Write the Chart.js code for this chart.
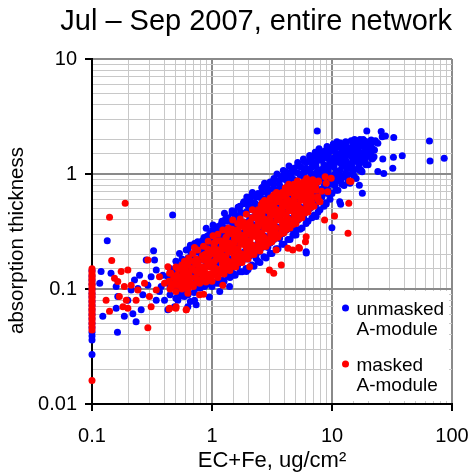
<!DOCTYPE html>
<html>
<head>
<meta charset="utf-8">
<script src="https://cdn.jsdelivr.net/npm/chart.js@4.4.1/dist/chart.umd.min.js"></script>
<style>
  html, body { margin: 0; padding: 0; background: #fff; }
  #wrap { width: 471px; height: 473px; }
</style>
</head>
<body>
<div id="wrap"><canvas id="myChart" width="471" height="473"></canvas></div>
<script>
// ---- data: [EC+Fe, absorption thickness] ----
var seriesNames = ['unmasked\nA-module', 'masked\nA-module'];

var xTickValues = [0.1, 1, 10, 100];
var xTickLabels = ['0.1', '1', '10', '100'];
var yTickValues = [0.01, 0.1, 1, 10];
var yTickLabels = ['0.01', '0.1', '1', '10'];

// unmasked: column of points sitting on the 0.1 axis
var unmaskedAxis = [[0.1,0.145],[0.1,0.13],[0.1,0.12],[0.1,0.11],[0.1,0.1],[0.1,0.092],[0.1,0.085],[0.1,0.078],
  [0.1,0.072],[0.1,0.066],[0.1,0.06],[0.1,0.055],[0.1,0.05],[0.1,0.046],[0.1,0.042],[0.1,0.039],[0.1,0.036],[0.1,0.027]];

// unmasked: low-loading scatter
var unmaskedLow = [[0.119,0.142],[0.116,0.112],[0.144,0.137],[0.159,0.105],[0.164,0.086],[0.123,0.058],[0.159,0.068],
  [0.186,0.058],[0.199,0.080],[0.212,0.098],[0.226,0.120],[0.249,0.132],[0.241,0.101],[0.265,0.089],[0.292,0.108],
  [0.311,0.128],[0.343,0.146],[0.332,0.179],[0.283,0.179],[0.365,0.095],[0.402,0.080],[0.377,0.105],[0.429,0.128],
  [0.472,0.112],[0.429,0.066],[0.519,0.080],[0.590,0.086],[0.629,0.070],[0.487,0.070],[0.233,0.052],[0.219,0.061],
  [0.257,0.066],[0.343,0.080],[0.389,0.132],[0.519,0.137],[0.590,0.120],[0.715,0.080],[0.692,0.156],[0.762,0.128],
  [0.866,0.105],[0.787,0.233],[0.894,0.233],[0.984,0.249],[0.813,0.191],[0.47,0.44],[0.134,0.263],[0.163,0.042],
  [1.31,0.41],[0.326,0.215],
  [0.447,0.089],[0.447,0.105],[0.447,0.126],[0.447,0.151],[0.50,0.083],[0.50,0.1],[0.50,0.12],[0.50,0.145],[0.50,0.174],
  [0.562,0.087],[0.562,0.105],[0.562,0.126],[0.562,0.151],[0.562,0.182],[0.631,0.089],[0.631,0.107],[0.631,0.129],
  [0.631,0.155],[0.631,0.186],[0.631,0.219],[0.60,0.095],[0.60,0.115],[0.60,0.14],[0.60,0.168],[0.53,0.092],
  [0.53,0.11],[0.53,0.135],[0.53,0.162],[0.67,0.2],[0.66,0.24]];

// unmasked: main band
var unmaskedBand = [
  [0.71,0.093],[0.74,0.112],[0.69,0.135],[0.73,0.162],[0.68,0.195],[0.74,0.229],
  [0.80,0.102],[0.77,0.123],[0.83,0.148],[0.78,0.178],[0.82,0.214],[0.76,0.257],
  [0.87,0.107],[0.92,0.132],[0.88,0.158],[0.93,0.191],[0.86,0.234],[0.91,0.288],
  [1.0,0.105],[0.96,0.126],[1.04,0.151],[0.99,0.186],[0.97,0.224],[1.04,0.269],[1.01,0.324],
  [1.10,0.112],[1.16,0.138],[1.09,0.166],[1.15,0.2],[1.12,0.245],[1.08,0.295],[1.16,0.355],
  [1.26,0.117],[1.22,0.141],[1.30,0.174],[1.23,0.209],[1.31,0.251],[1.25,0.309],[1.21,0.372],[1.30,0.407],
  [1.41,0.126],[1.46,0.151],[1.37,0.182],[1.44,0.224],[1.47,0.269],[1.38,0.324],[1.43,0.389],[1.47,0.457],
  [1.56,0.132],[1.63,0.158],[1.54,0.195],[1.61,0.234],[1.65,0.288],[1.55,0.347],[1.62,0.427],[1.66,0.513],
  [1.78,0.141],[1.72,0.17],[1.84,0.209],[1.74,0.251],[1.81,0.309],[1.85,0.38],[1.73,0.468],[1.83,0.562],
  [2.0,0.148],[1.94,0.182],[2.07,0.224],[1.96,0.275],[1.93,0.339],[2.07,0.417],[2.02,0.513],[1.95,0.631],
  [2.24,0.158],[2.31,0.195],[2.17,0.24],[2.29,0.295],[2.19,0.363],[2.32,0.457],[2.26,0.562],[2.17,0.692],
  [2.51,0.17],[2.43,0.209],[2.60,0.263],[2.46,0.324],[2.59,0.398],[2.44,0.501],[2.56,0.617],[2.61,0.759],
  [2.82,0.186],[2.92,0.229],[2.74,0.288],[2.88,0.355],[2.93,0.447],[2.75,0.55],[2.90,0.692],[2.74,0.832],
  [3.16,0.204],[3.06,0.251],[3.27,0.316],[3.10,0.389],[3.26,0.49],[3.08,0.603],[3.23,0.741],[3.28,0.912],
  [3.55,0.224],[3.66,0.275],[3.44,0.347],[3.62,0.427],[3.68,0.537],[3.45,0.661],[3.64,0.813],[3.48,1.0],
  [3.98,0.245],[3.86,0.302],[4.12,0.38],[3.90,0.468],[4.10,0.589],[3.87,0.724],[4.12,0.891],[3.93,1.072],
  [4.47,0.269],[4.61,0.331],[4.33,0.417],[4.56,0.513],[4.62,0.646],[4.34,0.794],[4.58,0.977],[4.38,1.175],
  [5.01,0.295],[4.86,0.363],[5.17,0.447],[4.90,0.55],[5.16,0.676],[4.87,0.832],[5.14,1.023],[5.18,1.259],
  [5.62,0.339],[5.80,0.417],[5.46,0.513],[5.77,0.631],[5.48,0.776],[5.81,0.955],[5.50,1.148],[5.78,1.349],
  [6.31,0.389],[6.12,0.479],[6.51,0.589],[6.17,0.724],[6.49,0.891],[6.13,1.096],[6.47,1.288],[6.52,1.445],
  [7.08,0.437],[7.30,0.537],[6.88,0.661],[7.26,0.813],[6.90,1.0],[7.31,1.202],[6.94,1.413],[7.25,1.549],
  [7.94,0.49],[7.70,0.603],[8.18,0.741],[7.74,0.912],[8.16,1.096],[7.72,1.318],[8.14,1.514],[7.80,1.66],
  [8.91,0.562],[9.18,0.676],[8.66,0.813],[9.15,0.977],[8.70,1.175],[9.17,1.38],[8.68,1.585],[9.1,1.738],
  [10.0,0.676],[9.7,0.813],[10.3,0.977],[9.75,1.175],[10.3,1.38],[9.72,1.585],[10.25,1.82],
  [11.2,0.724],[11.55,0.871],[10.9,1.047],[11.5,1.259],[10.95,1.479],[11.55,1.698],[11.0,1.905],
  [12.6,0.794],[12.2,0.955],[13.0,1.148],[12.25,1.349],[12.95,1.585],[12.2,1.82],
  [14.1,0.832],[14.5,1.0],[13.7,1.202],[14.5,1.413],[13.75,1.66],[14.45,1.95],
  [15.9,0.912],[15.4,1.096],[16.3,1.318],[15.45,1.549],[16.3,1.778],[15.4,1.995],
  [17.8,1.047],[17.3,1.259],[18.3,1.479],[17.3,1.738],[18.2,1.995],
  [20.0,1.202],[19.4,1.413],[20.6,1.66],[19.4,1.905],
  [22.4,1.413],[21.8,1.66],[23.0,1.95],
  // in-between columns, upper edge
  [0.75,0.209],[0.77,0.245],[0.84,0.24],[0.86,0.28],[0.94,0.251],[0.96,0.302],[1.06,0.263],[1.08,0.316],
  [1.19,0.282],[1.16,0.339],[1.21,0.389],[1.33,0.282],[1.30,0.339],[1.36,0.417],
  [1.50,0.316],[1.47,0.38],[1.53,0.468],[1.68,0.355],[1.64,0.427],[1.71,0.525],
  [1.88,0.38],[1.93,0.468],[1.85,0.575],[2.11,0.417],[2.16,0.513],[2.07,0.631],
  [2.37,0.447],[2.31,0.55],[2.42,0.676],[2.66,0.49],[2.73,0.603],[2.61,0.759],
  [2.99,0.537],[2.92,0.661],[3.06,0.832],[3.35,0.589],[3.43,0.724],[3.29,0.891],
  [3.76,0.631],[3.68,0.776],[3.84,0.955],[4.22,0.692],[4.31,0.851],[4.14,1.047],
  [4.73,0.741],[4.63,0.912],[4.83,1.122],[5.31,0.794],[5.42,0.977],[5.21,1.202],
  [5.96,0.871],[5.84,1.047],[6.08,1.259],[6.68,0.955],[6.82,1.148],[6.56,1.349],
  [7.5,1.047],[7.34,1.259],[7.64,1.479],[8.41,1.0],[8.58,1.202],[8.25,1.445],
  [9.44,0.891],[9.25,1.072],[9.62,1.288],[9.3,1.514],
  [10.6,0.794],[10.85,0.955],[10.4,1.148],[10.8,1.38],[10.45,1.622],
  [11.9,0.891],[11.6,1.072],[12.2,1.259],[11.65,1.479],[12.1,1.738],
  [13.3,0.933],[13.6,1.122],[13.0,1.318],[13.6,1.549],[13.1,1.778],
  [15.0,1.047],[14.7,1.259],[15.3,1.479],[14.75,1.738],
  [16.8,1.175],[17.1,1.38],[16.5,1.622],[17.0,1.862],
  [18.8,1.318],[18.4,1.549],[19.1,1.82],[21.1,1.479],[20.7,1.738]];

// unmasked: points filling the gaps between the rows of the band
var unmaskedFill = [
  [0.76,0.102],[0.74,0.123],[0.76,0.148],[0.74,0.178],[0.76,0.214],
  [0.85,0.107],[0.83,0.129],[0.85,0.155],[0.83,0.186],[0.85,0.224],[0.83,0.263],
  [0.95,0.11],[0.93,0.132],[0.95,0.158],[0.93,0.191],[0.95,0.229],[0.93,0.275],
  [1.07,0.115],[1.05,0.138],[1.07,0.166],[1.05,0.2],[1.07,0.24],[1.05,0.288],[1.07,0.347],
  [1.21,0.12],[1.17,0.145],[1.21,0.174],[1.17,0.209],[1.21,0.251],[1.17,0.302],[1.21,0.363],
  [1.35,0.129],[1.31,0.155],[1.35,0.186],[1.31,0.224],[1.35,0.269],[1.31,0.324],[1.35,0.389],
  [1.53,0.135],[1.47,0.162],[1.53,0.195],[1.47,0.234],[1.53,0.282],[1.47,0.339],[1.53,0.407],[1.47,0.479],
  [1.71,0.141],[1.65,0.17],[1.71,0.204],[1.65,0.245],[1.71,0.295],[1.65,0.355],[1.71,0.427],[1.65,0.513],
  [1.92,0.151],[1.84,0.182],[1.92,0.219],[1.84,0.263],[1.92,0.316],[1.84,0.38],[1.92,0.457],[1.84,0.55],
  [2.15,0.162],[2.07,0.195],[2.15,0.234],[2.07,0.282],[2.15,0.339],[2.07,0.407],[2.15,0.49],[2.07,0.589],
  [2.42,0.174],[2.32,0.209],[2.42,0.251],[2.32,0.302],[2.42,0.363],[2.32,0.437],[2.42,0.525],[2.32,0.631],
  [2.71,0.191],[2.61,0.229],[2.71,0.275],[2.61,0.331],[2.71,0.398],[2.61,0.479],[2.71,0.575],[2.61,0.692],
  [3.05,0.204],[2.93,0.245],[3.05,0.295],[2.93,0.355],[3.05,0.427],[2.93,0.513],[3.05,0.617],[2.93,0.741],[3.05,0.851],
  [3.42,0.224],[3.28,0.269],[3.42,0.324],[3.28,0.389],[3.42,0.468],[3.28,0.562],[3.42,0.676],[3.28,0.813],
  [3.84,0.245],[3.68,0.295],[3.84,0.355],[3.68,0.427],[3.84,0.513],[3.68,0.617],[3.84,0.741],[3.68,0.891],
  [4.3,0.269],[4.14,0.324],[4.3,0.389],[4.14,0.468],[4.3,0.562],[4.14,0.676],[4.3,0.813],[4.14,0.977],
  [4.82,0.295],[4.64,0.355],[4.82,0.427],[4.64,0.513],[4.82,0.617],[4.64,0.741],[4.82,0.891],[4.64,1.072],
  [5.42,0.331],[5.2,0.398],[5.42,0.479],[5.2,0.575],[5.42,0.692],[5.2,0.832],[5.42,1.0],[5.2,1.175],
  [6.08,0.372],[5.84,0.447],[6.08,0.537],[5.84,0.646],[6.08,0.776],[5.84,0.933],[6.08,1.122],[5.84,1.288],
  [6.81,0.417],[6.55,0.501],[6.81,0.603],[6.55,0.724],[6.81,0.871],[6.55,1.047],[6.81,1.259],[6.55,1.413],
  [7.65,0.468],[7.35,0.562],[7.65,0.676],[7.35,0.813],[7.65,0.977],[7.35,1.175],[7.65,1.38],[7.35,1.549],
  [8.58,0.525],[8.24,0.631],[8.58,0.759],[8.24,0.912],[8.58,1.096],[8.24,1.318],[8.58,1.514],
  [9.63,0.603],[9.25,0.724],[9.63,0.871],[9.25,1.047],[9.63,1.259],[9.25,1.479],[9.63,1.66],
  [10.8,0.724],[10.4,0.871],[10.8,1.047],[10.4,1.259],[10.8,1.514],[10.4,1.738],
  [12.1,0.813],[11.7,0.977],[12.1,1.175],[11.7,1.38],[12.1,1.622],[11.7,1.862],
  [13.6,0.851],[13.0,1.023],[13.6,1.23],[13.0,1.445],[13.6,1.66],[13.0,1.905],
  [15.3,0.955],[14.7,1.148],[15.3,1.349],[14.7,1.585],[15.3,1.862],
  [17.1,1.072],[16.5,1.259],[17.1,1.479],[16.5,1.738],[17.1,1.995],
  [19.2,1.202],[18.4,1.413],[19.2,1.66],[18.4,1.95],
  [21.5,1.349],[20.7,1.585],[21.5,1.862]];

// unmasked: stray points around the band
var unmaskedStray = [[7.53,2.37],[19.5,2.37],[25.7,2.34],[27.9,2.14],[32.7,2.08],[26.2,2.11],[64.9,1.94],
  [65.6,1.30],[86.1,1.37],[38.5,1.44],[32.5,1.40],[32.1,1.12],[26.5,1.35],[21.9,1.37],[24.1,1.05],[27.0,1.01],
  [18.6,1.28],[17.5,1.08],[18.1,1.91],[19.3,1.73],[20.5,1.57],[22.6,1.62],[24.1,1.85],[21.2,1.98],[17.9,0.68],
  [16.9,0.80],[11.6,0.574],[11.8,0.545],[8.95,0.548],[7.38,0.426],[9.98,0.341],[0.895,0.337],[1.02,0.36],
  [6.09,0.211],[1.93,0.142],[1.49,0.132],[3.66,0.285],[5.04,0.326],
  [0.536,0.204],[0.61,0.218],[0.715,0.249],[0.838,0.258],[1.27,0.455],[1.99,0.556],[2.83,0.80],[4.15,0.98],
  [0.738,0.073],[0.66,0.078],[0.95,0.085],[1.16,0.095],[1.4,0.105],[1.16,0.112],[0.95,0.12],[2.33,0.185],
  [4.72,0.295],[6.1,0.206]];

// masked: column on the 0.1 axis
var maskedAxis = [[0.1,0.15],[0.1,0.143],[0.1,0.136],[0.1,0.13],[0.1,0.124],[0.1,0.118],[0.1,0.112],[0.1,0.107],
  [0.1,0.102],[0.1,0.097],[0.1,0.092],[0.1,0.088],[0.1,0.084],[0.1,0.08],[0.1,0.076],[0.1,0.072],[0.1,0.068],
  [0.1,0.065],[0.1,0.062],[0.1,0.059],[0.1,0.056],[0.1,0.053],[0.1,0.05],[0.1,0.047],[0.1,0.044],[0.1,0.016]];

var maskedLow = [[0.131,0.080],[0.140,0.064],[0.154,0.124],[0.164,0.116],[0.175,0.142],[0.199,0.146],[0.186,0.105],
  [0.169,0.086],[0.193,0.080],[0.181,0.070],[0.199,0.068],[0.212,0.108],[0.233,0.080],[0.241,0.098],[0.274,0.112],
  [0.301,0.086],[0.311,0.070],[0.343,0.098],[0.292,0.179],[0.365,0.128],[0.402,0.112],[0.429,0.156],[0.443,0.137],
  [0.457,0.105],[0.502,0.124],[0.536,0.151],[0.553,0.108],[0.590,0.128],[0.629,0.092],[0.670,0.112],[0.738,0.142],
  [0.813,0.120],[0.866,0.146],[0.787,0.089],[0.443,0.068],[0.502,0.070],[0.610,0.066],[0.692,0.204],[0.762,0.218],
  [0.923,0.179],[0.984,0.120],[0.292,0.046],[0.189,0.556],[0.14,0.42],[0.146,0.177],
  [0.447,0.1],[0.44,0.117],[0.455,0.138],[0.5,0.095],[0.49,0.112],[0.51,0.132],[0.5,0.155],
  [0.562,0.1],[0.55,0.117],[0.575,0.138],[0.56,0.162],[0.631,0.1],[0.62,0.117],[0.645,0.138],[0.625,0.162],
  [0.64,0.186],[0.668,0.107],[0.66,0.126],[0.68,0.148],[0.67,0.174],[0.53,0.107],[0.535,0.126],[0.525,0.148],
  [0.596,0.107],[0.59,0.126],[0.60,0.148],[0.59,0.174],[0.473,0.107],[0.48,0.126]];

var maskedBand = [
  [0.70,0.105],[0.73,0.126],[0.68,0.151],[0.74,0.182],
  [0.79,0.112],[0.82,0.135],[0.77,0.162],[0.83,0.195],
  [0.89,0.115],[0.86,0.138],[0.92,0.166],[0.87,0.2],[0.92,0.224],
  [1.0,0.117],[1.03,0.141],[0.97,0.17],[1.02,0.204],[1.04,0.245],
  [1.12,0.126],[1.08,0.151],[1.16,0.182],[1.11,0.219],[1.08,0.263],
  [1.26,0.135],[1.30,0.162],[1.22,0.195],[1.29,0.234],[1.31,0.282],
  [1.41,0.145],[1.37,0.174],[1.46,0.209],[1.39,0.251],[1.46,0.302],[1.37,0.339],
  [1.58,0.155],[1.64,0.186],[1.54,0.224],[1.63,0.269],[1.55,0.324],[1.64,0.372],
  [1.78,0.17],[1.73,0.204],[1.84,0.245],[1.75,0.295],[1.84,0.347],[1.72,0.407],
  [2.0,0.182],[2.06,0.219],[1.94,0.263],[2.05,0.316],[2.07,0.38],[1.93,0.447],
  [2.24,0.2],[2.17,0.24],[2.31,0.288],[2.19,0.347],[2.31,0.417],[2.17,0.49],
  [2.51,0.214],[2.59,0.257],[2.43,0.309],[2.58,0.372],[2.45,0.447],[2.57,0.537],
  [2.82,0.234],[2.73,0.282],[2.91,0.339],[2.75,0.407],[2.91,0.49],[2.74,0.589],
  [3.16,0.257],[3.26,0.309],[3.07,0.372],[3.25,0.447],[3.08,0.537],[3.25,0.646],
  [3.55,0.282],[3.44,0.339],[3.66,0.407],[3.46,0.49],[3.65,0.589],[3.45,0.692],
  [3.98,0.309],[4.10,0.372],[3.86,0.447],[4.09,0.537],[3.88,0.646],[4.08,0.759],
  [4.47,0.339],[4.33,0.407],[4.60,0.49],[4.35,0.589],[4.61,0.692],[4.36,0.813],
  [5.01,0.372],[5.16,0.447],[4.86,0.537],[5.15,0.646],[4.88,0.759],[5.15,0.871],
  [5.62,0.417],[5.45,0.501],[5.79,0.603],[5.47,0.724],[5.78,0.851],
  [6.31,0.468],[6.50,0.562],[6.12,0.676],[6.49,0.794],[6.14,0.912],
  [7.08,0.525],[6.87,0.631],[7.29,0.759],[6.90,0.891],
  [7.94,0.575],[8.18,0.708],[7.72,0.871],
  // in-between columns
  [0.75,0.115],[0.77,0.138],[0.73,0.166],[0.84,0.123],[0.81,0.148],[0.86,0.178],
  [0.94,0.129],[0.97,0.155],[0.91,0.186],[0.96,0.214],[1.06,0.132],[1.03,0.158],[1.09,0.191],[1.04,0.229],
  [1.19,0.138],[1.22,0.166],[1.16,0.2],[1.22,0.24],[1.33,0.148],[1.29,0.178],[1.37,0.214],[1.30,0.257],[1.36,0.309],
  [1.5,0.158],[1.54,0.191],[1.46,0.229],[1.54,0.275],[1.47,0.331],[1.68,0.17],[1.63,0.204],[1.73,0.245],[1.64,0.295],[1.72,0.355],
  [1.88,0.186],[1.94,0.224],[1.83,0.269],[1.93,0.324],[1.84,0.38],[2.11,0.2],[2.05,0.24],[2.17,0.288],[2.06,0.347],[2.16,0.417],
  [2.37,0.219],[2.44,0.263],[2.31,0.316],[2.43,0.38],[2.32,0.457],
  [2.66,0.234],[2.58,0.282],[2.74,0.339],[2.6,0.407],[2.73,0.49],[2.62,0.562],
  [2.99,0.251],[3.08,0.302],[2.91,0.363],[3.07,0.437],[2.92,0.525],[3.06,0.617],
  [3.35,0.275],[3.26,0.331],[3.45,0.398],[3.27,0.479],[3.44,0.575],[3.28,0.661],
  [3.76,0.302],[3.87,0.363],[3.66,0.437],[3.86,0.525],[3.68,0.631],
  [4.22,0.331],[4.1,0.398],[4.34,0.479],[4.12,0.575],[4.33,0.692],
  [4.73,0.363],[4.87,0.437],[4.6,0.525],[4.86,0.631],[4.62,0.759],
  [5.31,0.407],[5.16,0.49],[5.46,0.589],[5.18,0.708],[5.45,0.813],
  [5.96,0.457],[6.13,0.55],[5.8,0.661],[6.12,0.776],[6.68,0.513],[6.5,0.617],[6.86,0.741],[6.52,0.851]];

// masked: points filling the gaps between the rows of the band
var maskedFill = [
  [0.76,0.12],[0.74,0.145],[0.76,0.174],[0.85,0.129],[0.83,0.155],[0.85,0.186],
  [0.95,0.135],[0.93,0.162],[0.95,0.195],[1.07,0.145],[1.05,0.174],[1.07,0.209],[1.05,0.251],
  [1.21,0.151],[1.17,0.182],[1.21,0.219],[1.17,0.263],[1.35,0.162],[1.31,0.195],[1.35,0.234],[1.31,0.282],
  [1.53,0.174],[1.47,0.209],[1.53,0.251],[1.47,0.302],[1.71,0.186],[1.65,0.224],[1.71,0.269],[1.65,0.324],[1.71,0.38],
  [1.92,0.204],[1.84,0.245],[1.92,0.295],[1.84,0.355],[2.15,0.219],[2.07,0.263],[2.15,0.316],[2.07,0.38],
  [2.42,0.24],[2.32,0.288],[2.42,0.347],[2.32,0.417],[2.42,0.49],[2.71,0.257],[2.61,0.309],[2.71,0.372],[2.61,0.447],[2.71,0.525],
  [3.05,0.275],[2.93,0.331],[3.05,0.398],[2.93,0.479],[3.05,0.575],[3.42,0.302],[3.28,0.363],[3.42,0.437],[3.28,0.525],[3.42,0.617],
  [3.84,0.331],[3.68,0.398],[3.84,0.479],[3.68,0.575],[3.84,0.692],[4.3,0.363],[4.14,0.437],[4.3,0.525],[4.14,0.631],[4.3,0.759],
  [4.82,0.398],[4.64,0.479],[4.82,0.575],[4.64,0.692],[4.82,0.813],[5.42,0.447],[5.2,0.537],[5.42,0.646],[5.2,0.759],
  [6.08,0.501],[5.84,0.603],[6.08,0.724],[5.84,0.851],[6.81,0.562],[6.55,0.676],[6.81,0.794],
  [7.65,0.603],[7.35,0.724],[7.65,0.851]];

var maskedStray = [[8.77,0.948],[8.95,0.83],[9.85,0.917],[9.22,0.70],[6.92,0.80],[5.82,0.80],[5.19,0.80],
  [6.71,0.70],[7.62,0.635],[7.87,0.574],[5.71,0.63],[14.0,0.87],[14.4,0.86],[13.8,0.556],[10.5,0.431],
  [3.01,0.146],[3.78,0.162],[3.43,0.218],[4.29,0.226],[5.36,0.226],[6.09,0.285],[6.01,0.258],[8.67,0.398],
  [1.49,0.398],[2.06,0.156],
  [0.715,0.23],[0.85,0.235],[0.93,0.26],[1.02,0.29],[1.12,0.3],[1.23,0.326],
  [0.61,0.066],[0.5,0.068],[0.44,0.067],[1.23,0.108],[0.85,0.09],
  [13.6,0.305],[4.71,0.218],[5.28,0.229],[3.27,0.137]];

var unmasked = unmaskedAxis.concat(unmaskedLow, unmaskedBand, unmaskedFill, unmaskedStray);
var masked = maskedAxis.concat(maskedLow, maskedBand, maskedFill, maskedStray);

// ---- drawing ----
var FONT = '"Liberation Sans", Arial, sans-serif';
var MAJOR = '#8a8a8a', MINOR = '#c8c8c8';

function toPoints(list) {
    return list.map(function (p) { return { x: p[0], y: p[1] }; });
}

function isDecade(v) {
    var l = Math.log10(v);
    return Math.abs(l - Math.round(l)) < 1e-6;
}

function labelFor(values, labels, v) {
    for (var i = 0; i < values.length; i++) {
        if (Math.abs(v - values[i]) / values[i] < 1e-6) return labels[i];
    }
    return '';
}

function gridOpts() {
    return {
        color: function (c) { return c.tick && isDecade(c.tick.value) ? MAJOR : MINOR; },
        lineWidth: function (c) { return c.tick && isDecade(c.tick.value) ? 2 : 1; },
        tickColor: function (c) { return c.tick && isDecade(c.tick.value) ? '#000' : 'rgba(0,0,0,0)'; },
        tickWidth: 2,
        tickLength: 7,
        drawTicks: true
    };
}

// legend with two-line labels boxed in the lower right decade, plus the rotated y title
var extras = {
    id: 'extras',
    afterDraw: function (chart) {
        var ctx = chart.ctx;
        var area = chart.chartArea;
        var left = chart.scales.x.getPixelForValue(10) + 1.5;
        var top = chart.scales.y.getPixelForValue(0.1) + 2;
        ctx.save();
        ctx.fillStyle = '#fff';
        ctx.fillRect(left, top, area.right - 3 - left, area.bottom - 3 - top);
        var colors = ['#0000ff', '#ff0000'];
        ctx.font = '19px ' + FONT;
        ctx.textBaseline = 'alphabetic';
        for (var i = 0; i < seriesNames.length; i++) {
            var y0 = top + 17 + i * 56;
            ctx.fillStyle = colors[i];
            ctx.beginPath();
            ctx.arc(left + 12, y0, 3.5, 0, Math.PI * 2);
            ctx.fill();
            ctx.fillStyle = '#000';
            var lines = seriesNames[i].split('\n');
            for (var k = 0; k < lines.length; k++) {
                ctx.fillText(lines[k], left + 23, y0 + 7 + k * 20);
            }
        }
        // y axis title
        ctx.translate(17, (area.top + area.bottom) / 2 + 9);
        ctx.rotate(-Math.PI / 2);
        ctx.font = '20.5px ' + FONT;
        ctx.textAlign = 'center';
        ctx.textBaseline = 'middle';
        ctx.fillText('absorption thickness', 0, 0);
        ctx.restore();
    }
};

var ctx = document.getElementById('myChart');
window.myScatter = new Chart(ctx, {
    type: 'scatter',
    data: {
        datasets: [{
            label: 'unmasked A-module',
            data: toPoints(unmasked),
            backgroundColor: '#0000ff',
            borderWidth: 0,
            pointRadius: 3.5,
            clip: false,
            order: 1
        }, {
            label: 'masked A-module',
            data: toPoints(masked),
            backgroundColor: '#ff0000',
            borderWidth: 0,
            pointRadius: 3.5,
            clip: false,
            order: 0
        }]
    },
    options: {
        responsive: false,
        animation: false,
        events: [],
        layout: { padding: { top: 0, right: 19, bottom: 0, left: 0 } },
        plugins: {
            legend: { display: false },
            tooltip: { enabled: false },
            title: {
                display: true,
                align: 'end',
                text: 'Jul \u2013 Sep 2007, entire network',
                color: '#000',
                font: { family: FONT, size: 29, weight: 'normal' },
                padding: { top: 4.6, bottom: 19.6 }
            }
        },
        scales: {
            x: {
                type: 'logarithmic',
                position: 'bottom',
                min: 0.1,
                max: 100,
                grid: gridOpts(),
                border: { display: true, color: '#000', width: 2 },
                ticks: {
                    autoSkip: false,
                    maxRotation: 0,
                    padding: 13,
                    color: '#000',
                    font: { family: FONT, size: 20 },
                    callback: function (v) { return labelFor(xTickValues, xTickLabels, v); }
                },
                title: {
                    display: true,
                    text: 'EC+Fe, ug/cm\u00b2',
                    color: '#000',
                    font: { family: FONT, size: 22 },
                    padding: { top: 0, bottom: -1 }
                },
                afterFit: function (scale) {
                    scale.height = 69;
                    scale.paddingLeft = 0;
                    scale.paddingRight = 0;
                }
            },
            y: {
                type: 'logarithmic',
                min: 0.01,
                max: 10,
                grid: gridOpts(),
                border: { display: true, color: '#000', width: 2 },
                ticks: {
                    autoSkip: false,
                    padding: 8,
                    color: '#000',
                    font: { family: FONT, size: 20 },
                    callback: function (v) { return labelFor(yTickValues, yTickLabels, v); }
                },
                title: { display: false },
                afterFit: function (scale) {
                    scale.width = 92;
                    scale.paddingTop = 0;
                    scale.paddingBottom = 0;
                }
            }
        }
    },
    plugins: [extras]
});
</script>
</body>
</html>
